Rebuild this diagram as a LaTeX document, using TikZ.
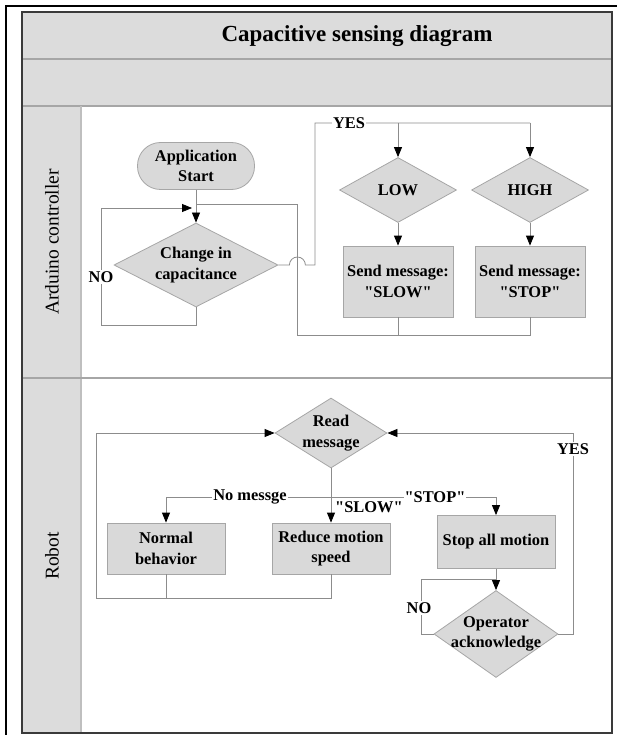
\documentclass[tikz,border=0pt]{standalone}
\usepackage{fontspec}
\setmainfont{Liberation Serif}[Ligatures=TeXOff]
\usetikzlibrary{arrows.meta,shapes.geometric,positioning}
\definecolor{shade}{HTML}{D9D9D9}
\definecolor{band}{HTML}{DCDCDC}
\definecolor{edge}{HTML}{A6A6A6}
\definecolor{wire}{HTML}{8C8C8C}
\definecolor{frame}{HTML}{3A3A3A}
\definecolor{lanerule}{HTML}{BFBFBF}
\newcommand{\flowfont}{\bfseries\fontsize{16.4}{20.5}\selectfont}
\tikzset{
  stepbox/.style={
    draw=edge, fill=shade, line width=0.8pt,
    inner sep=0pt, align=center, font=\flowfont
  },
  terminal/.style={stepbox, rounded corners=23pt, minimum width=117pt, minimum height=47pt},
  decision/.style={stepbox, diamond, aspect=1.6, inner sep=-8pt},
  process/.style={stepbox, minimum width=118pt, minimum height=51pt},
  wired/.style={draw=wire, line width=0.8pt},
  flow/.style={wired, -{Triangle[length=10pt,width=8pt,color=black]}},
  tag/.style={fill=white, inner sep=1pt, font=\flowfont}
}

\begin{document}
\begin{tikzpicture}[x=1pt, y=-1pt]
  \useasboundingbox (0,0) rectangle (617,735);
  % pool and lanes
  \fill[band] (22,12) rectangle (612,106);
  \fill[band] (22,106) rectangle (81,733);
  \draw[edge, line width=1.5pt] (22,59) -- (612,59);
  \draw[edge, line width=1.5pt] (22,106) -- (612,106);
  \draw[lanerule, line width=1.5pt] (81,106) -- (81,733);
  \draw[edge, line width=1.5pt] (22,378) -- (612,378);
  \draw[frame, line width=1.2pt] (22,12) rectangle (612,733);
  \draw[black, line width=1.6pt] (6,735) -- (6,6) -- (617,6);

  \node[font=\bfseries\fontsize{23}{27}\selectfont] (title) at (357,36) {Capacitive sensing diagram};
  \node[rotate=90, font=\fontsize{19.5}{23}\selectfont] (lanea) at (52,242) {Arduino controller};
  \node[rotate=90, font=\fontsize{19.5}{23}\selectfont] (laneb) at (52,556) {Robot};

  % Arduino controller
  \node[terminal] (start) at (196,166) {Application\\Start};
  \node[decision, minimum width=164pt, minimum height=84pt] (change) at (196,265) {Change in\\capacitance};
  \node[decision, minimum width=117pt, minimum height=65pt] (low) at (398,190) {LOW};
  \node[decision, minimum width=117pt, minimum height=65pt] (high) at (530,190) {HIGH};
  \node[process, minimum width=110pt, minimum height=71pt] (slow) at (398,281.5) {Send message:\\"SLOW"};
  \node[process, minimum width=110pt, minimum height=71pt] (stop) at (530,281.5) {Send message:\\"STOP"};

  \coordinate (rejoin) at (196,204);
  \coordinate (noturn) at (101,325);
  \coordinate (noin) at (192,208);
  \coordinate (fork) at (315,123);
  \coordinate (back) at (297,335);

  \draw[flow] (start.south) -- (change.north);
  \draw[flow] (change.south) |- (noturn) |- (noin);
  \draw[wired] (stop.south) |- (back) |- (rejoin);
  \draw[wired] (slow.south) -- (slow.south |- back);
  \draw[wired] (change.east) -- ([xshift=11pt]change.east)
    arc[start angle=180, end angle=0, radius=8pt] -| (fork) -- (high.north |- fork);
  \draw[flow] (low.north |- fork) -- (low.north);
  \draw[flow] (high.north |- fork) -- (high.north);
  \draw[flow] (low.south) -- (slow.north);
  \draw[flow] (high.south) -- (stop.north);

  \node[tag] (nolbl) at (101,277) {NO};
  \node[tag] (yeslbl) at (349,123) {YES};

  % Robot
  \node[decision, minimum width=112pt, minimum height=70pt] (read) at (331,433) {Read\\message};
  \node[process] (normal) at (166,548.5) {Normal\\behavior};
  \node[process] (reduce) at (331,548.5) {Reduce motion\\speed};
  \node[process, minimum height=53pt] (halt) at (496,542) {Stop all motion};
  \node[decision, minimum width=124pt, minimum height=87pt] (ack) at (496,634)
    {\makebox[0pt]{Operator}\\\makebox[0pt]{acknowledge}};

  \coordinate (split) at (331,497);
  \coordinate (loopl) at (96,598);
  \coordinate (ackno) at (421,579);
  \coordinate (ackyes) at (573,433);

  \draw[flow] (read.south) -- (reduce.north);
  \draw[flow] (split) -| (normal.north);
  \draw[flow] (split) -| (halt.north);
  \draw[wired] (normal.south) |- (loopl);
  \draw[flow] (reduce.south) |- (loopl) |- (read.west);
  \draw[flow] (halt.south) -- (ack.north);
  \draw[wired] (ack.west) -| (ackno) -- (halt.south |- ackno);
  \draw[flow] (ack.east) -| (ackyes) -- (read.east);

  \node[tag] (nomsg) at (250,497) {No messge};
  \node[tag] (stoplbl) at (435,497) {"STOP"};
  \node[font=\flowfont, anchor=west, inner sep=1pt] (slowlbl) at (334,507) {"SLOW"};
  \node[tag] (acknolbl) at (419,608) {NO};
  \node[tag] (ackyeslbl) at (573,449) {YES};
\end{tikzpicture}
\end{document}
